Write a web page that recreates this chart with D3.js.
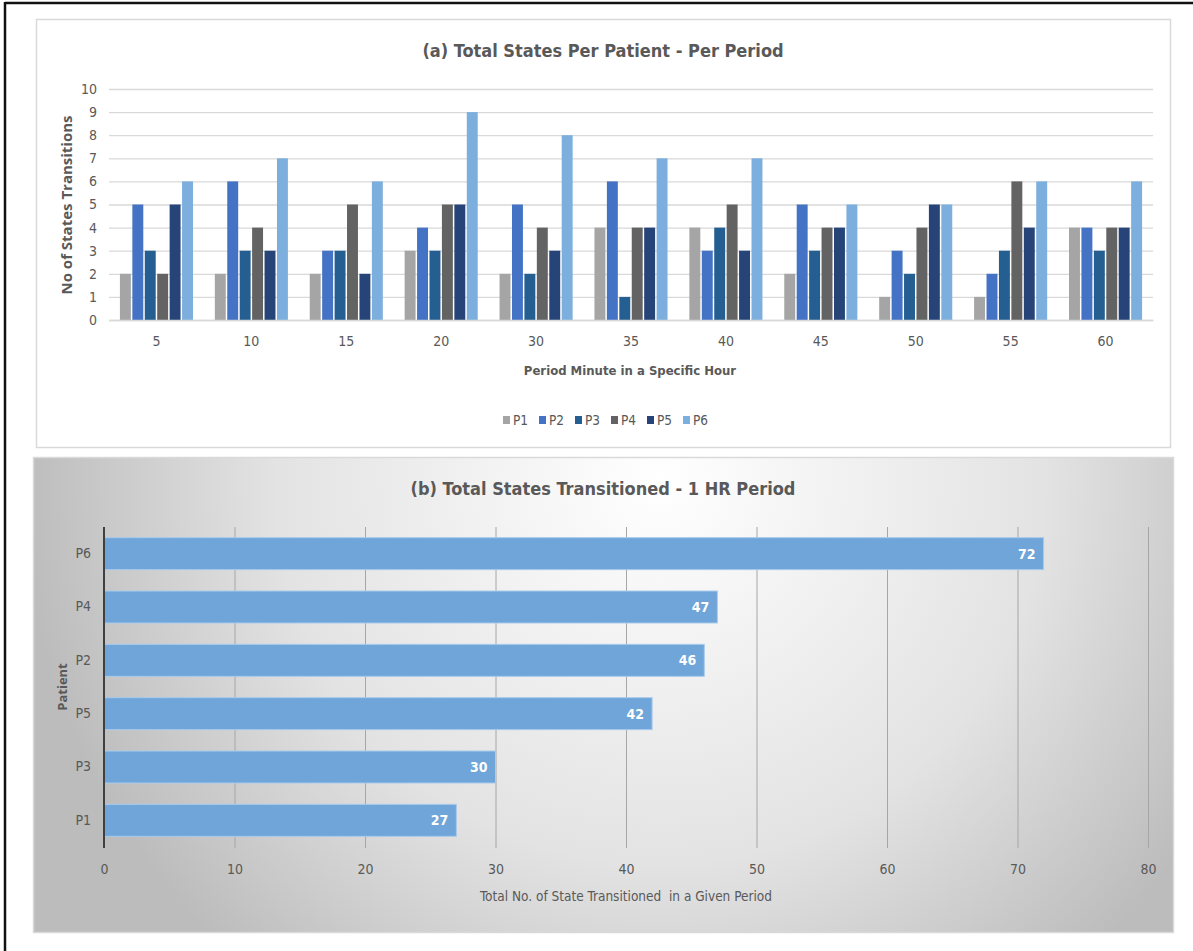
<!DOCTYPE html>
<html>
<head>
<meta charset="utf-8">
<script src="https://cdn.jsdelivr.net/npm/d3@7"></script>
<style>
  html, body { margin: 0; padding: 0; background: #ffffff; }
  svg { display: block; }
  text { font-family: "Liberation Sans Narrow", "DejaVu Sans Condensed", "Arial Narrow", sans-serif; }
</style>
</head>
<body>
<svg id="chart" width="1193" height="951"></svg>
<script>
// ---------- Data ----------
const periods = ["5", "10", "15", "20", "30", "35", "40", "45", "50", "55", "60"];
const patients = ["P1", "P2", "P3", "P4", "P5", "P6"];
const p1Values = [2, 2, 2, 3, 2, 4, 4, 2, 1, 1, 4];
const p2Values = [5, 6, 3, 4, 5, 6, 3, 5, 3, 2, 4];
const p3Values = [3, 3, 3, 3, 2, 1, 4, 3, 2, 3, 3];
const p4Values = [2, 4, 5, 5, 4, 4, 5, 4, 4, 6, 4];
const p5Values = [5, 3, 2, 5, 3, 4, 3, 4, 5, 4, 4];
const p6Values = [6, 7, 6, 9, 8, 7, 7, 5, 5, 6, 6];
const yTicksA = [0, 1, 2, 3, 4, 5, 6, 7, 8, 9, 10];

const patientOrder = ["P6", "P4", "P2", "P5", "P3", "P1"];
const totalValues = [72, 47, 46, 42, 30, 27];
const xTicksB = [0, 10, 20, 30, 40, 50, 60, 70, 80];

const seriesColors = ["#a5a5a5", "#4472c4", "#255e91", "#636363", "#264478", "#7cafdd"];

// ---------- Setup ----------
const svg = d3.select("#chart");
const textColor = "#595959";
const narrow = '"Liberation Sans Narrow", "DejaVu Sans Condensed", sans-serif';

// outer frame (left & top)
svg.append("line").attr("x1", 5).attr("y1", 3).attr("x2", 1193).attr("y2", 3)
  .attr("stroke", "#111").attr("stroke-width", 2.5);
svg.append("line").attr("x1", 5).attr("y1", 2).attr("x2", 5).attr("y2", 951)
  .attr("stroke", "#111").attr("stroke-width", 2.5);

// ---------- Chart (a) ----------
const gA = svg.append("g");
gA.append("rect").attr("x", 36.5).attr("y", 19.5).attr("width", 1134).attr("height", 428)
  .attr("fill", "#ffffff").attr("stroke", "#d9d9d9").attr("stroke-width", 1.5);

const seriesData = [p1Values, p2Values, p3Values, p4Values, p5Values, p6Values];
const rows = periods.map((p, i) => ({
  period: p,
  values: patients.map((pt, j) => ({ patient: pt, value: seriesData[j][i] }))
}));

const xA0 = d3.scaleBand().domain(periods).range([109, 1153]).paddingInner(0.23).paddingOuter(0.115);
const xA1 = d3.scaleBand().domain(patients).range([0, xA0.bandwidth()]).paddingInner(0.12);
const yA = d3.scaleLinear().domain([0, 10]).range([320, 89]);
const colorA = d3.scaleOrdinal().domain(patients).range(seriesColors);

// gridlines
const gridA = gA.append("g").attr("transform", "translate(109,0)")
  .call(d3.axisLeft(yA).tickValues(yTicksA).tickSize(-1044).tickFormat(""));
gridA.select(".domain").remove();
gridA.selectAll(".tick line").attr("stroke", "#d9d9d9").attr("stroke-width", 1.3);

// y tick labels
const yAxisA = gA.append("g").attr("transform", "translate(109,0)")
  .call(d3.axisLeft(yA).tickValues(yTicksA).tickSize(0).tickPadding(12));
yAxisA.select(".domain").remove();
yAxisA.selectAll("text").attr("fill", textColor).style("font-size", "14px").style("font-family", narrow);

// bars
gA.append("g").selectAll("g").data(rows).join("g")
  .attr("transform", d => `translate(${xA0(d.period)},0)`)
  .selectAll("rect").data(d => d.values).join("rect")
  .attr("x", d => xA1(d.patient))
  .attr("y", d => yA(d.value))
  .attr("width", xA1.bandwidth())
  .attr("height", d => yA(0) - yA(d.value))
  .attr("fill", d => colorA(d.patient));

// x axis
const xAxisA = gA.append("g").attr("transform", "translate(0,320)")
  .call(d3.axisBottom(xA0).tickSize(0).tickPadding(16));
xAxisA.select(".domain").attr("stroke", "#d9d9d9").attr("stroke-width", 1.3);
xAxisA.selectAll("text").attr("fill", textColor).style("font-size", "14px").style("font-family", narrow);

// titles
gA.append("text").attr("x", 603).attr("y", 57).attr("text-anchor", "middle")
  .attr("fill", textColor).style("font-size", "18px").style("font-weight", "bold")
  .text("(a) Total States Per Patient - Per Period");
gA.append("text").attr("x", 630).attr("y", 375).attr("text-anchor", "middle")
  .attr("fill", textColor).style("font-size", "13px").style("font-weight", "bold")
  .text("Period Minute in a Specific Hour");
gA.append("text").attr("transform", "translate(72,205) rotate(-90)").attr("text-anchor", "middle")
  .attr("fill", textColor).style("font-size", "15px").style("font-weight", "bold")
  .style("font-family", '"Open Sans", "DejaVu Sans", sans-serif')
  .text("No of States Transitions");

// legend
const legendA = gA.append("g").attr("transform", "translate(503,420)");
const legendItems = legendA.selectAll("g").data(patients).join("g")
  .attr("transform", (d, i) => `translate(${i * 36},0)`);
legendItems.append("rect").attr("x", 0).attr("y", -4).attr("width", 7).attr("height", 8)
  .attr("fill", d => colorA(d));
legendItems.append("text").attr("x", 10).attr("y", 5).attr("fill", textColor)
  .style("font-size", "13.5px").text(d => d);

// ---------- Chart (b) ----------
const gB = svg.append("g");
const defs = svg.append("defs");
const grad = defs.append("radialGradient").attr("id", "bgGrad")
  .attr("gradientUnits", "userSpaceOnUse").attr("cx", 660).attr("cy", 480).attr("r", 640);
grad.append("stop").attr("offset", "0%").attr("stop-color", "#ffffff");
grad.append("stop").attr("offset", "60%").attr("stop-color", "#e3e3e3");
grad.append("stop").attr("offset", "100%").attr("stop-color", "#bcbcbc");

gB.append("rect").attr("x", 33.5).attr("y", 457.5).attr("width", 1140).attr("height", 475)
  .attr("fill", "url(#bgGrad)").attr("stroke", "#d9d9d9").attr("stroke-width", 1.5);

const xB = d3.scaleLinear().domain([0, 80]).range([104, 1148]);
const yB = d3.scaleBand().domain(patientOrder).range([527, 847]).paddingInner(0.4).paddingOuter(0.2);

// vertical gridlines
const gridB = gB.append("g").attr("transform", "translate(0,848)")
  .call(d3.axisBottom(xB).tickValues(xTicksB).tickSize(-321).tickFormat(""));
gridB.select(".domain").remove();
gridB.selectAll(".tick line").attr("stroke", "#a6a6a6").attr("stroke-width", 1);

// x tick labels
const xAxisB = gB.append("g").attr("transform", "translate(0,848)")
  .call(d3.axisBottom(xB).tickValues(xTicksB).tickSize(0).tickPadding(16));
xAxisB.select(".domain").remove();
xAxisB.selectAll("text").attr("fill", textColor).style("font-size", "14px").style("font-family", narrow);

// bars
const barData = patientOrder.map((p, i) => ({ patient: p, value: totalValues[i] }));
gB.append("g").selectAll("rect").data(barData)
  .join("rect")
  .attr("x", xB(0))
  .attr("y", d => yB(d.patient))
  .attr("width", d => xB(d.value) - xB(0))
  .attr("height", yB.bandwidth())
  .attr("fill", "#6fa5d8")
  .attr("stroke", "#a9cbec").attr("stroke-width", 1);

// value labels
gB.append("g").selectAll("text").data(barData)
  .join("text")
  .attr("x", d => xB(d.value) - 8)
  .attr("y", d => yB(d.patient) + yB.bandwidth() / 2 + 5)
  .attr("text-anchor", "end").attr("fill", "#ffffff")
  .style("font-size", "14px").style("font-weight", "bold")
  .text(d => d.value);

// y axis
const yAxisB = gB.append("g").attr("transform", "translate(104,0)")
  .call(d3.axisLeft(yB).tickSize(0).tickPadding(13));
yAxisB.select(".domain").remove();
yAxisB.selectAll("text").attr("fill", textColor).style("font-size", "14px").style("font-family", narrow);
gB.append("line").attr("x1", 104).attr("x2", 104).attr("y1", 527).attr("y2", 848)
  .attr("stroke", "#404040").attr("stroke-width", 2);

// titles
gB.append("text").attr("x", 603).attr("y", 495).attr("text-anchor", "middle")
  .attr("fill", textColor).style("font-size", "18px").style("font-weight", "bold")
  .text("(b) Total States Transitioned - 1 HR Period");
gB.append("text").attr("x", 626).attr("y", 901).attr("text-anchor", "middle")
  .attr("fill", textColor).style("font-size", "13.5px")
  .style("white-space", "pre").attr("xml:space", "preserve")
  .text("Total No. of State Transitioned  in a Given Period");
gB.append("text").attr("transform", "translate(67,687) rotate(-90)").attr("text-anchor", "middle")
  .attr("fill", textColor).style("font-size", "13px").style("font-weight", "bold")
  .style("font-family", '"Open Sans", "DejaVu Sans", sans-serif')
  .text("Patient");
</script>
</body>
</html>
